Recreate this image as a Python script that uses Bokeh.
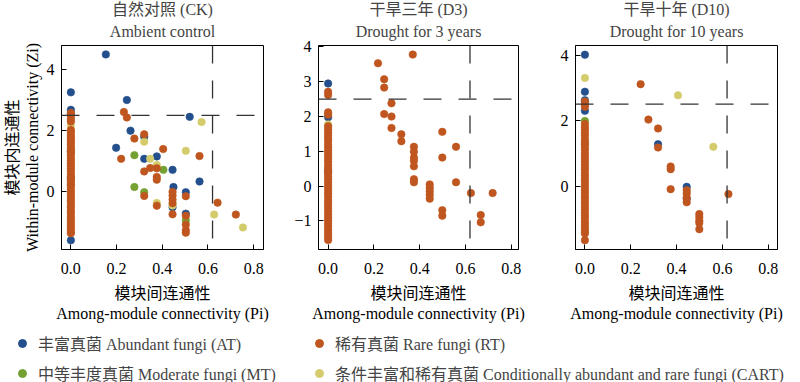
from bokeh.plotting import figure
from bokeh.layouts import row, column
from bokeh.models import (Span, FixedTicker, Legend, LegendItem, Range1d, Title,
                          NumeralTickFormatter, LinearAxis)
from bokeh.embed import file_html
from bokeh.resources import INLINE

FONT = "Liberation Serif, Noto Sans CJK SC"
C_AT = "#23508c"
C_MT = "#74a131"
C_RT = "#c0561f"
C_CART = "#d4cc6c"

X_TICKS = [0.0, 0.2, 0.4, 0.6, 0.8]
ZI_THRESHOLD = 2.5
PI_THRESHOLD = 0.62

# ---------------- CK: Ambient control ----------------
ck_at_pi = [0, 0, 0, 0, 0, 0, 0.153, 0.245, 0.52, 0.261, 0.321, 0.198, 0.321, 0.376,
            0.445, 0.563, 0.449, 0.503, 0.503, 0.445]
ck_at_zi = [3.25, 2.68, 2.55, 1.32, 0.45, -1.58, 4.49, 3.0, 2.45, 2.0, 1.8, 1.44, 1.08, 1.16,
            0.72, 0.34, 0.16, -0.01, -0.71, -0.5]
ck_mt_pi = [0, 0, 0.278, 0.405, 0.278, 0.321, 0.503]
ck_mt_zi = [1.33, 0.26, 1.2, 0.72, 0.16, -0.01, -0.93]
ck_cart_pi = [0, 0, 0.572, 0.321, 0.347, 0.376, 0.503, 0.376, 0.445, 0.627, 0.753]
ck_cart_zi = [2.15, 0.95, 2.28, 1.64, 1.08, 0.88, 1.34, -0.36, -0.44, -0.74, -1.16]
ck_rt_pi = [0.232, 0.245, 0.278, 0.321, 0.404, 0.22, 0.563, 0.347, 0.376, 0.321, 0.376,
            0.376, 0.321, 0.445, 0.445, 0.445, 0.445, 0.445, 0.503, 0.376, 0.503, 0.503,
            0.503, 0.503, 0.642, 0.722]
ck_rt_zi = [2.61, 2.43, 1.74, 1.88, 1.40, 1.08, 1.17, 0.78, 0.77, 0.67, 0.49,
            0.40, -0.13, 0.0, -0.12, -0.25, -0.37, -0.73, -0.14, -0.45, -0.78, -1.07,
            -1.25, -1.33, -0.35, -0.74]
ck_rt_zero_zi = [2.58, 2.48, 2.38, 2.3, 2.02, 1.95, 1.86, 1.78, 1.7, 1.62, 1.55, 1.45, 1.38,
                 1.27, 1.2, 1.1, 1.02, 0.92, 0.85, 0.76, 0.68, 0.58, 0.5, 0.42, 0.35, 0.25,
                 0.18, 0.08, 0.0, -0.1, -0.18, -0.27, -0.35, -0.45, -0.52, -0.62, -0.7,
                 -0.8, -0.88, -0.97, -1.05, -1.13, -1.22, -1.3, -1.35]

# ---------------- D3: Drought for 3 years ----------------
d3_at_pi = [0, 0, 0]
d3_at_zi = [2.95, 1.98, 0.41]
d3_mt_pi = []
d3_mt_zi = []
d3_cart_pi = [0]
d3_cart_zi = [1.77]
d3_rt_pi = [0.218, 0.245, 0.245, 0.277, 0.245, 0.277, 0.277, 0.32, 0.32, 0.37, 0.375, 0.375,
            0.375, 0.375, 0.375, 0.375, 0.375, 0.499, 0.559, 0.499, 0.559, 0.444, 0.444,
            0.444, 0.444, 0.444, 0.624, 0.719, 0.499, 0.499, 0.667, 0.667]
d3_rt_zi = [3.53, 3.07, 2.83, 2.38, 2.07, 2.0, 1.67, 1.49, 1.29, 3.78, 1.13, 0.99,
            0.82, 0.73, 0.57, 0.2, 0.11, 1.56, 1.13, 0.82, 0.11, 0.05, -0.05,
            -0.15, -0.25, -0.36, -0.2, -0.2, -0.69, -0.85, -0.83, -1.04]
d3_rt_zero_zi = [2.71, 2.62, 2.12, 2.05, 1.72, 1.63, 1.55, 1.46, 1.38, 1.3, 1.2, 1.12, 1.03,
                 0.95, 0.86, 0.78, 0.7, 0.6, 0.52, 0.45, 0.36, 0.28, 0.2, 0.12, 0.03, -0.05,
                 -0.14, -0.22, -0.3, -0.4, -0.48, -0.56, -0.65, -0.73, -0.82, -0.9, -0.98,
                 -1.07, -1.15, -1.24, -1.32, -1.4, -1.48, -1.55]

# ---------------- D10: Drought for 10 years ----------------
d10_at_pi = [0, 0, 0, 0, 0.319, 0.444, 0.444]
d10_at_zi = [4.01, 2.88, 2.62, 2.3, 1.28, -0.02, -0.38]
d10_mt_pi = [0, 0, 0]
d10_mt_zi = [1.99, 1.3, -1.4]
d10_cart_pi = [0, 0.406, 0.56]
d10_cart_zi = [3.3, 2.77, 1.2]
d10_rt_pi = [0.243, 0.277, 0.319, 0.319, 0.374, 0.374, 0.374, 0.444, 0.444, 0.444, 0.444,
             0.499, 0.499, 0.499, 0.499, 0.499, 0.626]
d10_rt_zi = [3.11, 2.03, 1.76, 1.18, 0.6, 0.52, -0.09, -0.12, -0.22, -0.35, -0.49,
             -0.85, -0.95, -1.05, -1.12, -1.31, -0.24]
d10_rt_zero_zi = [2.58, 2.5, 2.42, 1.9, 1.8, 1.72, 1.62, 1.55, 1.45, 1.36, 1.27, 1.18, 1.1,
                  1.0, 0.92, 0.83, 0.75, 0.66, 0.57, 0.5, 0.4, 0.32, 0.23, 0.15, 0.06, -0.03,
                  -0.12, -0.2, -0.3, -0.38, -0.47, -0.55, -0.64, -0.72, -0.82, -0.9, -0.98,
                  -1.08, -1.16, -1.25, -1.33, -1.44, -1.65]

LEGEND_LABELS = ["丰富真菌 Abundant fungi (AT)", "中等丰度真菌 Moderate fungi (MT)",
                 "稀有真菌 Rare fungi (RT)",
                 "条件丰富和稀有真菌 Conditionally abundant and rare fungi (CART)"]
X_LABEL_CN = "模块间连通性"
X_LABEL_EN = "Among-module connectivity (Pi)"
Y_LABEL_CN = "模块内连通性"
Y_LABEL_EN = "Within-module connectivity (Zi)"


def style_axis(ax, tick_standoff, label_standoff):
    ax.major_tick_in = 5
    ax.major_tick_out = 0
    ax.minor_tick_line_color = None
    ax.axis_line_color = "black"
    ax.major_tick_line_color = "black"
    ax.major_label_text_font = FONT
    ax.major_label_text_font_size = "16px"
    ax.major_label_text_color = "black"
    ax.axis_label_text_font = FONT
    ax.axis_label_text_font_size = "16px"
    ax.axis_label_text_font_style = "normal"
    ax.axis_label_text_color = "black"
    ax.major_label_standoff = tick_standoff
    ax.axis_label_standoff = label_standoff


def label_axis(text, standoff):
    ax = LinearAxis(ticker=FixedTicker(ticks=[]), axis_label=text)
    ax.axis_line_color = None
    ax.major_tick_line_color = None
    ax.minor_tick_line_color = None
    ax.major_tick_in = 0
    ax.major_tick_out = 0
    ax.major_label_standoff = 0
    ax.axis_label_standoff = standoff
    ax.axis_label_text_font = FONT
    ax.axis_label_text_font_size = "16px"
    ax.axis_label_text_font_style = "normal"
    ax.axis_label_text_color = "black"
    return ax


def panel(cn, en, xr, yr, yticks, groups, rt_zero, fw, bl, br, ylabel):
    p = figure(frame_width=fw, frame_height=204, x_range=Range1d(*xr), y_range=Range1d(*yr),
               output_backend="svg", toolbar_location=None,
               min_border_left=bl, min_border_right=br, min_border_top=0,
               min_border_bottom=0, background_fill_color="white",
               border_fill_color="white")
    p.title.text = cn
    p.title.align = "center"
    p.title.text_font = FONT
    p.title.text_font_size = "16px"
    p.title.text_font_style = "normal"
    p.title.standoff = -4
    t2 = Title(text=en, align="center", text_font=FONT, text_font_size="16px",
               text_font_style="normal", standoff=11)
    p.add_layout(t2, "above")
    p.xgrid.visible = False
    p.ygrid.visible = False
    p.outline_line_color = "black"
    p.outline_line_alpha = 1
    p.outline_line_width = 1
    p.xaxis.ticker = FixedTicker(ticks=X_TICKS)
    p.xaxis.formatter = NumeralTickFormatter(format="0.0")
    p.yaxis.ticker = FixedTicker(ticks=yticks)
    p.yaxis.major_label_overrides = {t: ("−%d" % -t if t < 0 else "%d" % t) for t in yticks}
    p.xaxis.axis_label = X_LABEL_CN
    style_axis(p.xaxis[0], 13, 8)
    style_axis(p.yaxis[0], 7, 3)
    p.add_layout(label_axis(X_LABEL_EN, 0), "below")
    if ylabel:
        p.yaxis.axis_label = Y_LABEL_EN
        p.add_layout(label_axis(Y_LABEL_CN, 0), "left")
    p.add_layout(Span(location=ZI_THRESHOLD, dimension="width", line_color="#333333",
                      line_width=1.3, line_dash="18 17"))
    p.add_layout(Span(location=PI_THRESHOLD, dimension="height", line_color="#333333",
                      line_width=1.3, line_dash="18 17"))
    (at_pi, at_zi), (mt_pi, mt_zi), (ca_pi, ca_zi), (rt_pi, rt_zi) = groups
    for xs, ys, c in [(at_pi, at_zi, C_AT), (mt_pi, mt_zi, C_MT), (ca_pi, ca_zi, C_CART)]:
        if xs:
            p.scatter(xs, ys, size=7.5, fill_color=c, line_color=c, line_width=0.6)
    rx = [0.0] * len(rt_zero) + rt_pi
    ry = rt_zero + rt_zi
    p.scatter(rx, ry, size=7.5, fill_color=C_RT, line_color=C_RT, line_width=0.6)
    return p


p1 = panel("自然对照 (CK)", "Ambient control", (-0.041, 0.843), (-1.88, 4.78), [0, 2, 4],
           [(ck_at_pi, ck_at_zi), (ck_mt_pi, ck_mt_zi), (ck_cart_pi, ck_cart_zi),
            (ck_rt_pi, ck_rt_zi)], ck_rt_zero_zi, 202, 55, 20, True)
p2 = panel("干旱三年 (D3)", "Drought for 3 years", (-0.042, 0.832), (-1.82, 4.04),
           [-1, 0, 1, 2, 3, 4],
           [(d3_at_pi, d3_at_zi), (d3_mt_pi, d3_mt_zi), (d3_cart_pi, d3_cart_zi),
            (d3_rt_pi, d3_rt_zi)], d3_rt_zero_zi, 200, 35, 20, False)
p3 = panel("干旱十年 (D10)", "Drought for 10 years", (-0.041, 0.84), (-1.93, 4.29), [0, 2, 4],
           [(d10_at_pi, d10_at_zi), (d10_mt_pi, d10_mt_zi), (d10_cart_pi, d10_cart_zi),
            (d10_rt_pi, d10_rt_zi)], d10_rt_zero_zi, 202, 37, 9, False)

# ---------------- legend strip ----------------
pl = figure(width=792, height=62, x_range=Range1d(1, 2), y_range=Range1d(1, 2),
            output_backend="svg", toolbar_location=None, x_axis_location=None,
            y_axis_location=None, min_border=0, outline_line_color=None)
pl.xgrid.visible = False
pl.ygrid.visible = False
rends = []
for c in [C_AT, C_MT, C_RT, C_CART]:
    # placeholder point kept outside the visible range: only its legend swatch shows
    rends.append(pl.scatter(x=[0], y=[0], size=8, fill_color=c, line_color=c))


def make_legend(idx, loc):
    return Legend(items=[LegendItem(label=LEGEND_LABELS[i], renderers=[rends[i]]) for i in idx],
                  location=loc, orientation="vertical", border_line_color=None,
                  background_fill_alpha=0, padding=0, margin=0, spacing=6,
                  glyph_width=20, glyph_height=20, label_height=20, label_standoff=6,
                  label_text_font=FONT, label_text_font_size="16px")


pl.add_layout(make_legend([0, 1], (12, 1)))
pl.add_layout(make_legend([2, 3], (309, 1)))

layout = column(row(p1, p2, p3), pl)
open("out.html", "w").write(file_html(layout, INLINE))
